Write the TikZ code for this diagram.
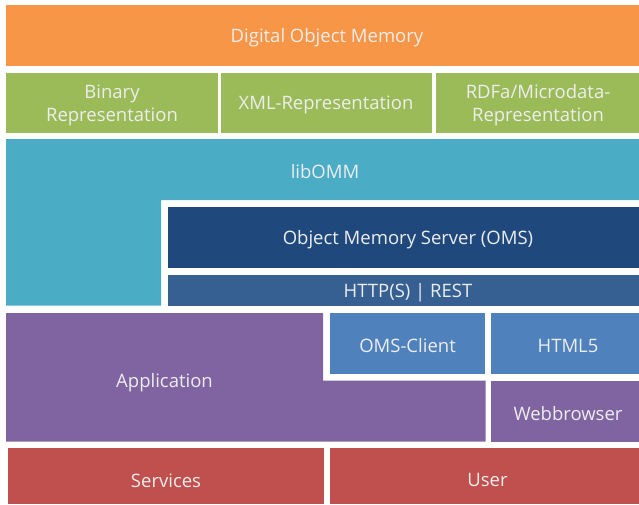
\documentclass[tikz,border=0pt]{standalone}
\usepackage{fontspec}
\setmainfont{Open Sans}
\definecolor{cOrange}{HTML}{F79646}
\definecolor{cGreen}{HTML}{9BBB59}
\definecolor{cAqua}{HTML}{4BACC6}
\definecolor{cNavy}{HTML}{1F497D}
\definecolor{cSteel}{HTML}{366092}
\definecolor{cBlue}{HTML}{4F81BD}
\definecolor{cPurple}{HTML}{8064A2}
\definecolor{cRed}{HTML}{C0504D}
\tikzset{
  lbl/.style={text=white!93!black, font=\fontsize{18.5}{23}\selectfont, align=center, inner sep=0pt, yshift=-2.3pt},
  blk/.style={draw=none, inner sep=0pt}
}
\begin{document}
\begin{tikzpicture}[x=1pt,y=-1pt]
\useasboundingbox (0,0) rectangle (639,504);
\clip (0,0) rectangle (639,504);
% top
\fill[cOrange] (6,5) rectangle (648,65.5);
\node[lbl] (dom) at (327,35) {Digital Object Memory};
% green
\fill[cGreen] (6,73) rectangle (217.5,133.3);
\fill[cGreen] (220.5,73) rectangle (432,133.3);
\fill[cGreen] (436,73) rectangle (641,133.3);
\node[lbl] (bin) at (112,103) {Binary\\Representation};
\node[lbl] (xml) at (326,103) {XML-Representation};
\node[lbl] (rdfa) at (538,103) {RDFa/Microdata-\\Representation};
% libOMM
\fill[cAqua] (6,139) -- (648,139) -- (648,200) -- (161,200) -- (161,305.7) -- (6,305.7) -- cycle;
\node[lbl] (lib) at (325,169.5) {libOMM};
% OMS
\fill[cNavy] (168,207) rectangle (648,267.7);
\node[lbl] (oms) at (408,237.5) {Object Memory Server (OMS)};
\fill[cSteel] (168,275) rectangle (648,305.7);
\node[lbl] (http) at (408,290.5) {HTTP(S) | REST};
% application
\fill[cPurple] (6,313) -- (323,313) -- (323,380.7) -- (485.7,380.7) -- (485.7,441.7) -- (6,441.7) -- cycle;
\node[lbl] (app) at (164.5,380) {Application};
\fill[cBlue] (330,313) rectangle (485,374);
\node[lbl] (omsc) at (407.5,343.5) {OMS-Client};
\fill[cBlue] (491,313) rectangle (645,374);
\node[lbl] (html) at (568,343.5) {HTML5};
\fill[cPurple] (491,381) rectangle (645,441.7);
\node[lbl] (web) at (568,411) {Webbrowser};
% bottom
\fill[cRed] (8,448) rectangle (324,504);
\node[lbl] (srv) at (166,478) {Services};
\fill[cRed] (330,448) rectangle (645,504);
\node[lbl] (usr) at (487.5,478) {User};
\end{tikzpicture}
\end{document}
